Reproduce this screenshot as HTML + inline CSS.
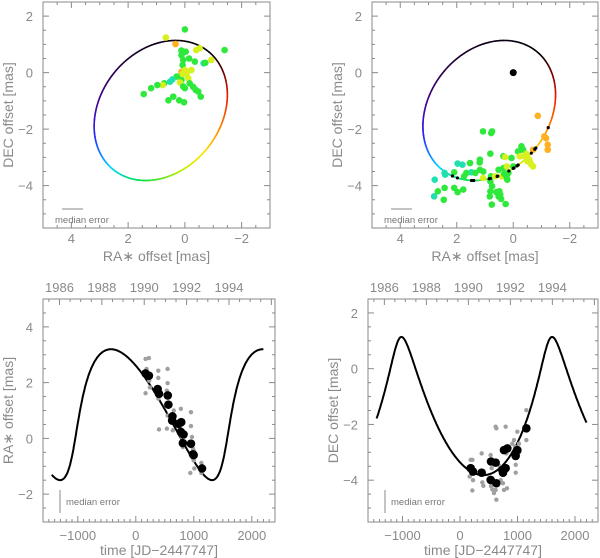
<!DOCTYPE html>
<html><head><meta charset="utf-8"><style>
html,body{margin:0;padding:0;background:#fff;}
svg{display:block;font-family:"Liberation Sans",sans-serif;}
</style></head><body>
<svg id="fig" width="600" height="558" viewBox="0 0 600 558"></svg>
<script>
// ---- orbit model elements ----
const period = 2620;
const periastronT = -1060;
const eccentricity = 0.58;
const raCoef = [-1.05, 2.1, 0.85];
const decCoef = [2.41, 0.58, -1.34];
// ---- observations ----
const epochT = [168,226,377,400,551,562,632,626,736,783,777,823,812,951,986,997,1142];
const epochRA = [2.33,2.25,1.77,1.6,1.54,1.21,0.79,0.64,0.52,0.58,0.23,0.14,-0.17,-0.19,-0.57,-0.6,-1.08];
const decEpochT = [186,226,377,539,533,620,632,748,736,794,765,823,968,997,1154];
const decEpochV = [-3.57,-3.69,-3.73,-3.33,-3.99,-3.37,-4.11,-3.73,-3.63,-3.57,-2.92,-2.86,-3.13,-2.92,-2.14];
const grayRAT = [168,226,186,232,168,243,388,388,388,400,548,548,536,548,536,626,638,655,777,765,794,812,951,951,969,940,997,997,1009,986,1130,1130];
const grayRAV = [2.85,2.88,2.49,2.07,1.62,1.83,2.43,2.17,1.43,0.32,2.49,1.98,1.71,0.82,0.35,0.64,0.29,1.0,1.06,0.4,0.05,-0.31,0.94,0.44,0.05,-1.24,-0.43,-0.79,-1.08,-0.37,-0.88,-1.24];
const grayDecT = [186,215,168,226,215,377,388,406,533,551,551,539,562,591,620,632,632,620,794,806,765,748,818,939,957,969,969,997,1026,1154,1154,910,690,707,1026];
const grayDecV = [-3.27,-3.27,-3.87,-4.0,-4.37,-3.04,-4.08,-4.2,-3.1,-3.27,-3.57,-4.21,-4.33,-4.46,-2.08,-2.14,-4.7,-4.35,-2.08,-3.04,-4.35,-4.11,-4.29,-2.56,-2.8,-3.45,-3.73,-2.26,-2.69,-1.49,-2.56,-2.69,-3.5,-4.0,-3.0];
const tlRA = [0,0.67,0.33,-1.4,0.12,-0.03,0.12,-0.52,-0.4,-0.15,-0.35,0.06,-0.66,-0.72,0.08,-0.93,0.12,0,-0.23,-0.06,-0.12,0.12,0.17,-0.17,-0.29,-0.38,-0.47,0.29,0.44,0.52,0.73,0.78,1.19,1.45,0.97,0,0.41,0.2,0.58,0.03,-0.56,0.17,0.06,0.08,-0.08];
const tlDEC = [1.53,1.24,1.01,0.8,0.78,0.74,0.62,0.86,0.8,0.5,0.39,0.45,0.33,0.35,0.27,0.45,0.03,0.09,0.09,-0.08,-0.2,-0.26,-0.14,-0.38,-0.5,-0.61,-0.67,-0.14,-0.24,-0.32,-0.38,-0.44,-0.55,-0.76,-0.44,-0.55,-0.85,-0.98,-0.98,-1.05,-0.85,-0.35,-0.49,-0.05,0.04];
const tlCls = ['g','y','o','g','g','g','g','y','y','g','g','g','c','g','g','y','o','y','y','y','y','g','g','g','g','g','g','g','c','c','g','y','g','g','g','g','g','g','g','g','g','y','g','y','y'];
const trRA = [0.75,0.78,1.07,0.81,1.18,1.19,1.18,1.53,1.48,1.66,1.34,1.06,1.97,1.8,2.09,1.74,2.41,2.43,2.78,2.8,2.67,2.43,2.09,1.97,1.77,2.46,0.79,0.81,0.75,0.81,0.76,0.83,0.6,0.52,0.46,0.49,0.43,0.27,0.35,0.29,0.06,0,0.52,0.35,0.23,0.41,0.32,0.17,0.23,0.21,0.64,1.07,-0.17,-0.29,-0.35,-0.23,-0.41,-0.46,-0.56,-0.6,-0.64,-0.7,-0.5,-0.87,-1.1,-1.16,-1.22,-1.22,-0.7];
const trDEC = [-2.08,-2.14,-2.08,-2.87,-3.08,-3.18,-3.44,-3.2,-3.53,-3.55,-3.55,-3.5,-3.22,-3.26,-3.53,-3.67,-3.61,-3.55,-3.79,-4.38,-4.2,-4.08,-4.08,-4.23,-4.14,-4.5,-3.67,-3.85,-4.02,-4.2,-4.67,-4.38,-4.23,-4.38,-4.32,-4.2,-4.47,-4.65,-2.96,-2.99,-3.02,-3.32,-3.44,-3.38,-3.32,-3.67,-3.58,-3.55,-3.73,-3.79,-3.67,-3.73,-2.79,-2.61,-2.73,-2.96,-2.96,-2.88,-3.08,-3.18,-3.26,-3.32,-3.14,-1.53,-2.26,-2.32,-2.55,-2.73,-2.73];
const trCls = ['g','g','g','g','g','g','g','g','c','g','g','g','c','c','g','g','c','c','c','c','g','g','g','g','g','g','g','g','g','g','g','g','g','g','g','g','g','g','g','y','g','g','g','g','y','y','g','g','g','g','y','y','g','g','g','y','y','y','y','y','y','y','y','o','o','o','o','o','o'];
const xTicksOrbit = [4,2,0,-2];
const yTicksOrbit = [2,0,-2,-4];
const xTicksTime = [-1000,0,1000,2000];
const yTicksRA = [4,2,0,-2];
const yTicksDEC = [2,0,-2,-4];
const yearTicks = [1986,1988,1990,1992,1994];

// ---- helpers ----
const NS = 'http://www.w3.org/2000/svg';
const svg = document.getElementById('fig');
function mk(tag, attrs, parent){const e=document.createElementNS(NS,tag);for(const k in attrs)e.setAttribute(k,attrs[k]);(parent||svg).appendChild(e);return e;}
function scale(d0,d1,r0,r1){return v=>r0+(v-d0)/(d1-d0)*(r1-r0);}
function eccAnomaly(t){
  let M=2*Math.PI*(t-periastronT)/period;
  M=((M%(2*Math.PI))+2*Math.PI)%(2*Math.PI);
  let E=M+eccentricity*Math.sin(M);
  for(let i=0;i<30;i++){E=E-(E-eccentricity*Math.sin(E)-M)/(1-eccentricity*Math.cos(E));}
  return E;
}
function modelPos(t,coef){const E=eccAnomaly(t);return coef[0]*Math.cos(E)+coef[1]*Math.sin(E)+coef[2];}
function modelRA(t){return modelPos(t,raCoef);}
function modelDEC(t){return modelPos(t,decCoef);}
const CLR={g:'#2ee83c',y:'#d8f020',o:'#ffb020',c:'#20e0b0'};
const cmapStops=[[0,[0,0,0]],[0.1,[25,0,45]],[0.2,[70,0,140]],[0.3,[40,40,255]],[0.43,[0,215,255]],[0.57,[0,225,70]],[0.72,[190,240,0]],[0.8,[255,225,0]],[0.87,[255,130,0]],[0.93,[240,30,0]],[0.97,[110,0,0]],[1,[0,0,0]]];
function cmap(f){for(let i=1;i<cmapStops.length;i++){if(f<=cmapStops[i][0]){const a=cmapStops[i-1],b=cmapStops[i];const u=(f-a[0])/(b[0]-a[0]);const c=a[1].map((v,k)=>Math.round(v+(b[1][k]-v)*u));return `rgb(${c})`;}}return 'rgb(0,0,0)';}

function frame(p,name){
  const g=mk('g',{});
  
  
  const r=mk('rect',{x:p.x0,y:p.y0,width:p.x1-p.x0,height:p.y1-p.y0,fill:'none',stroke:'#8a8a8a','stroke-width':1},g);
  
  
  return g;
}
function ticks(g,p,sx,sy,xmaj,xmin,ymaj,ymin,topTicks){
  const st={stroke:'#8a8a8a','stroke-width':1};
  const lo=Math.min(...p.xr),hi=Math.max(...p.xr);
  for(let v=Math.ceil(lo/xmin)*xmin;v<=hi;v+=xmin){const x=sx(v);const L=Math.abs(v/xmaj-Math.round(v/xmaj))<1e-6?6:3;
    mk('line',Object.assign({x1:x,x2:x,y1:p.y1,y2:p.y1-L},st),g);
    if(topTicks)mk('line',Object.assign({x1:x,x2:x,y1:p.y0,y2:p.y0+L},st),g);}
  const ylo=Math.min(...p.yr),yhi=Math.max(...p.yr);
  for(let v=Math.ceil(ylo/ymin-1e-9)*ymin;v<=yhi+1e-9;v+=ymin){const y=sy(v);const L=Math.abs(v/ymaj-Math.round(v/ymaj))<1e-6?6:3;
    mk('line',Object.assign({x1:p.x0,x2:p.x0+L,y1:y,y2:y},st),g);
    mk('line',Object.assign({x1:p.x1,x2:p.x1-L,y1:y,y2:y},st),g);}
}
function label(txt,x,y,opts,name){
  const t=mk('text',Object.assign({x:x,y:y,fill:'#8a8a8a','font-size':13,'text-anchor':'middle'},opts||{}));
  t.textContent=txt;
  
  
  return t;
}
function fmt(v){return v<0?'\u2212'+(-v):''+v;}

function orbitPanel(p,pref,scRA,scDEC,scCls,showEpochs){
  const sx=scale(p.xr[0],p.xr[1],p.x0,p.x1), sy=scale(p.yr[0],p.yr[1],p.y0,p.y1);
  const g=frame(p,pref+'-panel');
  ticks(g,p,sx,sy,2,0.5,2,0.5,true);
  xTicksOrbit.forEach(v=>label(fmt(v),sx(v),243,{},'x-tick-label'));
  yTicksOrbit.forEach(v=>label(fmt(v),p.x0-10,sy(v)+5,{'text-anchor':'end'},'y-tick-label'));
  label('RA\u2217 offset [mas]',(p.x0+p.x1)/2,261,{'font-size':14},'x-axis-title');
  label('DEC offset [mas]',0,0,{'font-size':14,transform:`translate(${p.x0-30},${(p.y0+p.y1)/2}) rotate(-90)`},'y-axis-title');
  const N=300,t0=periastronT-70;
  for(let i=0;i<N;i++){
    const ta=t0+period*i/N,tb=t0+period*(i+1)/N;
    const l=mk('line',{x1:sx(modelRA(ta)),y1:sy(modelDEC(ta)),x2:sx(modelRA(tb)),y2:sy(modelDEC(tb)),stroke:cmap((i+0.5)/N),'stroke-width':1.6,'stroke-linecap':'round'},g);
    
    
  }
  scRA.forEach((ra,i)=>{
    const c=mk('circle',{cx:sx(ra),cy:sy(scDEC[i]),r:3.3,fill:CLR[scCls[i]]},g);
    
    
  });
  if(showEpochs){
    const o=mk('circle',{cx:sx(0),cy:sy(0),r:3.5,fill:'#000'},g);
    
    
    epochT.forEach(t=>{
      const c=mk('circle',{cx:sx(modelRA(t)),cy:sy(modelDEC(t)),r:1.6,fill:'#000'},g);
      
      
    });
  }
  const ml=mk('line',{x1:p.x0+19,x2:p.x0+40,y1:209,y2:209,stroke:'#8a8a8a','stroke-width':1},g);
  
  
  label('median error',p.x0+12,223,{'font-size':9.5,'text-anchor':'start',fill:'#777'},'median-error-label');
}
orbitPanel({x0:43,x1:270,y0:2,y1:228,xr:[5,-3],yr:[2.5,-5.5]},'orbit-left',tlRA,tlDEC,tlCls,false);
orbitPanel({x0:372,x1:598,y0:2,y1:228,xr:[5,-3],yr:[2.5,-5.5]},'orbit-right',trRA,trDEC,trCls,true);

function timePanel(p,pref,yT,ytitle,modelFn,gT,gV,eT,eV){
  const sx=scale(p.xr[0],p.xr[1],p.x0,p.x1), sy=scale(p.yr[0],p.yr[1],p.y0,p.y1);
  const g=frame(p,pref+'-panel');
  ticks(g,p,sx,sy,1000,100,2,0.5,false);
  for(let y=1985;y<=1996;y+=0.5){const t=145.5+(y-1990)*365.25;const x=sx(t);if(x<p.x0||x>p.x1)continue;
    mk('line',{x1:x,x2:x,y1:p.y0,y2:p.y0+(Number.isInteger(y)&&y%2===0?6:3),stroke:'#8a8a8a','stroke-width':1},g);}
  yearTicks.forEach(y=>label(''+y,sx(145.5+(y-1990)*365.25),292,{},'year-tick-label'));
  xTicksTime.forEach(v=>label(fmt(v),sx(v),540,{},'x-tick-label'));
  yT.forEach(v=>label(fmt(v),p.x0-10,sy(v)+5,{'text-anchor':'end'},'y-tick-label'));
  label('time [JD\u22122447747]',(p.x0+p.x1)/2,555,{'font-size':14},'x-axis-title');
  label(ytitle,0,0,{'font-size':14,transform:`translate(${p.x0-30},${(p.y0+p.y1)/2}) rotate(-90)`},'y-axis-title');
  let d='';
  for(let t=-1450;t<=2200;t+=5){d+=(d?'L':'M')+sx(t).toFixed(1)+','+sy(modelFn(t)).toFixed(1);}
  const path=mk('path',{d:d,fill:'none',stroke:'#000','stroke-width':2},g);
  
  
  gT.forEach((t,i)=>{const c=mk('circle',{cx:sx(t),cy:sy(gV[i]),r:2.2,fill:'#a0a0a0'},g);
    
    });
  eT.forEach((t,i)=>{const c=mk('circle',{cx:sx(t),cy:sy(eV[i]),r:4.3,fill:'#000'},g);
    
    });
  const ml=mk('line',{x1:p.x0+17,x2:p.x0+17,y1:490,y2:513,stroke:'#8a8a8a','stroke-width':1},g);
  
  
  label('median error',p.x0+23,505,{'font-size':9.5,'text-anchor':'start',fill:'#777'},'median-error-label');
}
timePanel({x0:43,x1:275,y0:299,y1:522,xr:[-1600,2400],yr:[5,-3]},'ra-time',yTicksRA,'RA\u2217 offset [mas]',modelRA,grayRAT,grayRAV,epochT,epochRA);
timePanel({x0:368,x1:598,y0:299,y1:522,xr:[-1600,2400],yr:[2.5,-5.5]},'dec-time',yTicksDEC,'DEC offset [mas]',modelDEC,grayDecT,grayDecV,decEpochT,decEpochV);
</script>
</body></html>
